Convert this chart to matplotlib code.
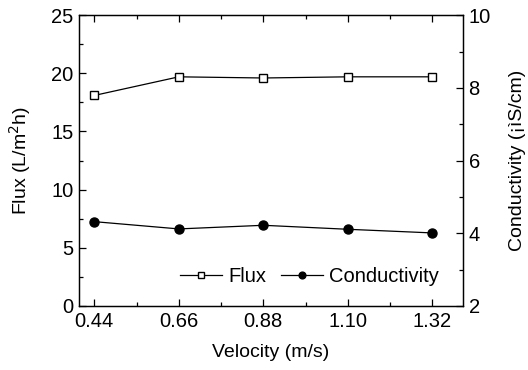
import numpy as np
import matplotlib
matplotlib.use('Agg')
import matplotlib.pyplot as plt
from matplotlib.ticker import MultipleLocator, FixedLocator

plt.rcParams['font.family'] = ['Liberation Sans', 'DejaVu Sans']

velocity = [0.44, 0.66, 0.88, 1.10, 1.32]
flux = [18.1, 19.7, 19.6, 19.7, 19.7]
conductivity = [4.32, 4.12, 4.22, 4.11, 4.01]
xtick_labels = ['0.44', '0.66', '0.88', '1.10', '1.32']

fig = plt.figure(figsize=(5.28, 3.70), dpi=100)
ax = fig.add_axes([0.1496, 0.173, 0.7273, 0.786])
ax2 = ax.twinx()

l1, = ax.plot(velocity, flux, 'k-', lw=0.9, marker='s', ms=5.5,
              mfc='white', mec='black', mew=1.0, label='Flux')
l2, = ax2.plot(velocity, conductivity, 'k-', lw=0.9, marker='o', ms=6.5,
               mfc='black', mec='black', label='Conductivity')

ax.set_xlim(0.4, 1.4)
ax.set_ylim(0, 25)
ax2.set_ylim(2, 10)

ax.xaxis.set_major_locator(FixedLocator(velocity))
ax.set_xticklabels(xtick_labels)
ax.xaxis.set_minor_locator(FixedLocator([0.55, 0.77, 0.99, 1.21]))
ax.yaxis.set_major_locator(MultipleLocator(5))
ax.yaxis.set_minor_locator(MultipleLocator(2.5))
ax2.yaxis.set_major_locator(MultipleLocator(2))
ax2.yaxis.set_minor_locator(MultipleLocator(1))

ax.tick_params(which='both', direction='in', top=True, right=False,
               labelsize=14.5, pad=4)
ax.tick_params(which='major', length=5, width=0.9)
ax.tick_params(which='minor', length=3, width=0.9)
ax2.tick_params(which='both', direction='in', labelsize=14.5, pad=4)
ax2.tick_params(which='major', length=5, width=0.9)
ax2.tick_params(which='minor', length=3, width=0.9)

for a in (ax, ax2):
    for s in a.spines.values():
        s.set_linewidth(0.9)

ax.set_xlabel('Velocity (m/s)', fontsize=14)
ax.set_ylabel('Flux (L/m$^2$h)', fontsize=14)
ax2.set_ylabel('Conductivity (¡ìS/cm)', fontsize=14)
ax.xaxis.set_label_coords(0.5, -0.13)
ax.yaxis.set_label_coords(-0.12, 0.5)
ax2.yaxis.set_label_coords(1.12, 0.5)

ax2.legend([l1, l2], ['Flux', 'Conductivity'], ncol=2, frameon=False,
           fontsize=14.5, loc='center', bbox_to_anchor=(0.6, 0.1),
           handlelength=2.1, columnspacing=0.7, handletextpad=0.3,
           markerscale=0.75, borderpad=0, borderaxespad=0)

fig.savefig('out.png', dpi=100)
